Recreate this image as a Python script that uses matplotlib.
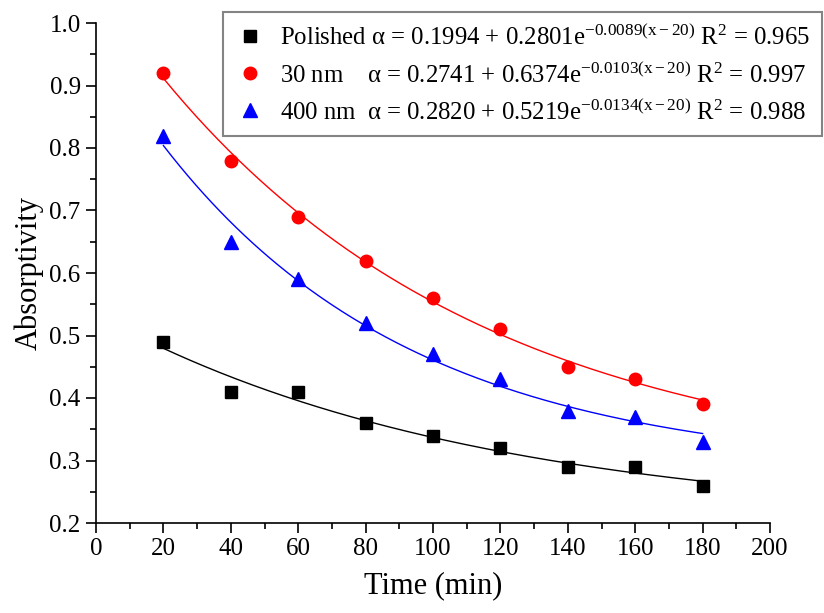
import matplotlib
matplotlib.use("Agg")
import matplotlib.pyplot as plt
import numpy as np
from matplotlib.ticker import MultipleLocator, FormatStrFormatter

plt.rcParams['font.family'] = ['Liberation Serif', 'DejaVu Serif']
plt.rcParams['mathtext.fontset'] = 'custom'
plt.rcParams['mathtext.rm'] = 'Liberation Serif'
plt.rcParams['mathtext.it'] = 'Liberation Serif:italic'

time = [20, 40, 60, 80, 100, 120, 140, 160, 180]
polished = [0.49, 0.41, 0.41, 0.36, 0.34, 0.32, 0.29, 0.29, 0.26]
nm30 = [0.92, 0.78, 0.69, 0.62, 0.56, 0.51, 0.45, 0.43, 0.39]
nm400 = [0.82, 0.65, 0.59, 0.52, 0.47, 0.43, 0.38, 0.37, 0.33]

# fit parameters shown in legend: a + b*exp(-k(x-20))
fit_polished = (0.1994, 0.2801, 0.0089)
fit_30 = (0.2741, 0.6374, 0.0103)
fit_400 = (0.2820, 0.5219, 0.0134)

labels = [
    'Polished α = 0.1994 + 0.2801e$^{\\mathrm{-0.0089(x-20)}}$ R$^{\\mathrm{2}}$ = 0.965',
    '30 nm    α = 0.2741 + 0.6374e$^{\\mathrm{-0.0103(x-20)}}$ R$^{\\mathrm{2}}$ = 0.997',
    '400 nm  α = 0.2820 + 0.5219e$^{\\mathrm{-0.0134(x-20)}}$ R$^{\\mathrm{2}}$ = 0.988',
]

fig = plt.figure(figsize=(8.24, 6.13), dpi=100)
ax = fig.add_axes([96/824, 90/613, (770-96)/824, (523-23)/613])

xf = np.linspace(20, 180, 200)
series = [(polished, fit_polished, 'black', 's', 8),
          (nm30, fit_30, 'red', 'o', 9),
          (nm400, fit_400, 'blue', '^', 10)]
handles = []
for (y, (a, b, k), c, m, ms), lab in zip(series, labels):
    ax.plot(xf, a + b*np.exp(-k*(xf-20)), color=c, lw=1)
    h, = ax.plot(time, y, linestyle='none', marker=m, color=c, markersize=ms, label=lab)
    handles.append(h)

ax.set_xlim(0, 200)
ax.set_ylim(0.2, 1.0)
ax.xaxis.set_major_locator(MultipleLocator(20))
ax.xaxis.set_minor_locator(MultipleLocator(10))
ax.yaxis.set_major_locator(MultipleLocator(0.1))
ax.yaxis.set_minor_locator(MultipleLocator(0.05))
ax.yaxis.set_major_formatter(FormatStrFormatter('%.1f'))
ax.spines['top'].set_visible(False)
ax.spines['right'].set_visible(False)
for s in ['left', 'bottom']:
    ax.spines[s].set_linewidth(1.2)
ax.tick_params(which='major', direction='out', length=7, width=1.2, labelsize=18, pad=4)
ax.tick_params(which='minor', direction='out', length=4, width=1.2)
ax.set_xlabel('Time (min)', fontsize=22, labelpad=8)
ax.set_ylabel('Absorptivity', fontsize=22, labelpad=4)

leg = fig.legend(handles=handles, loc='upper right', bbox_to_anchor=(822/824, 1 - 12/613),
                 fontsize=17.8, frameon=True, fancybox=False, edgecolor='#666666',
                 handletextpad=0.6, borderpad=0.5, labelspacing=0.5, handlelength=1.2,
                 borderaxespad=0)
leg.get_frame().set_linewidth(1.5)

fig.savefig('out.png', dpi=100)
